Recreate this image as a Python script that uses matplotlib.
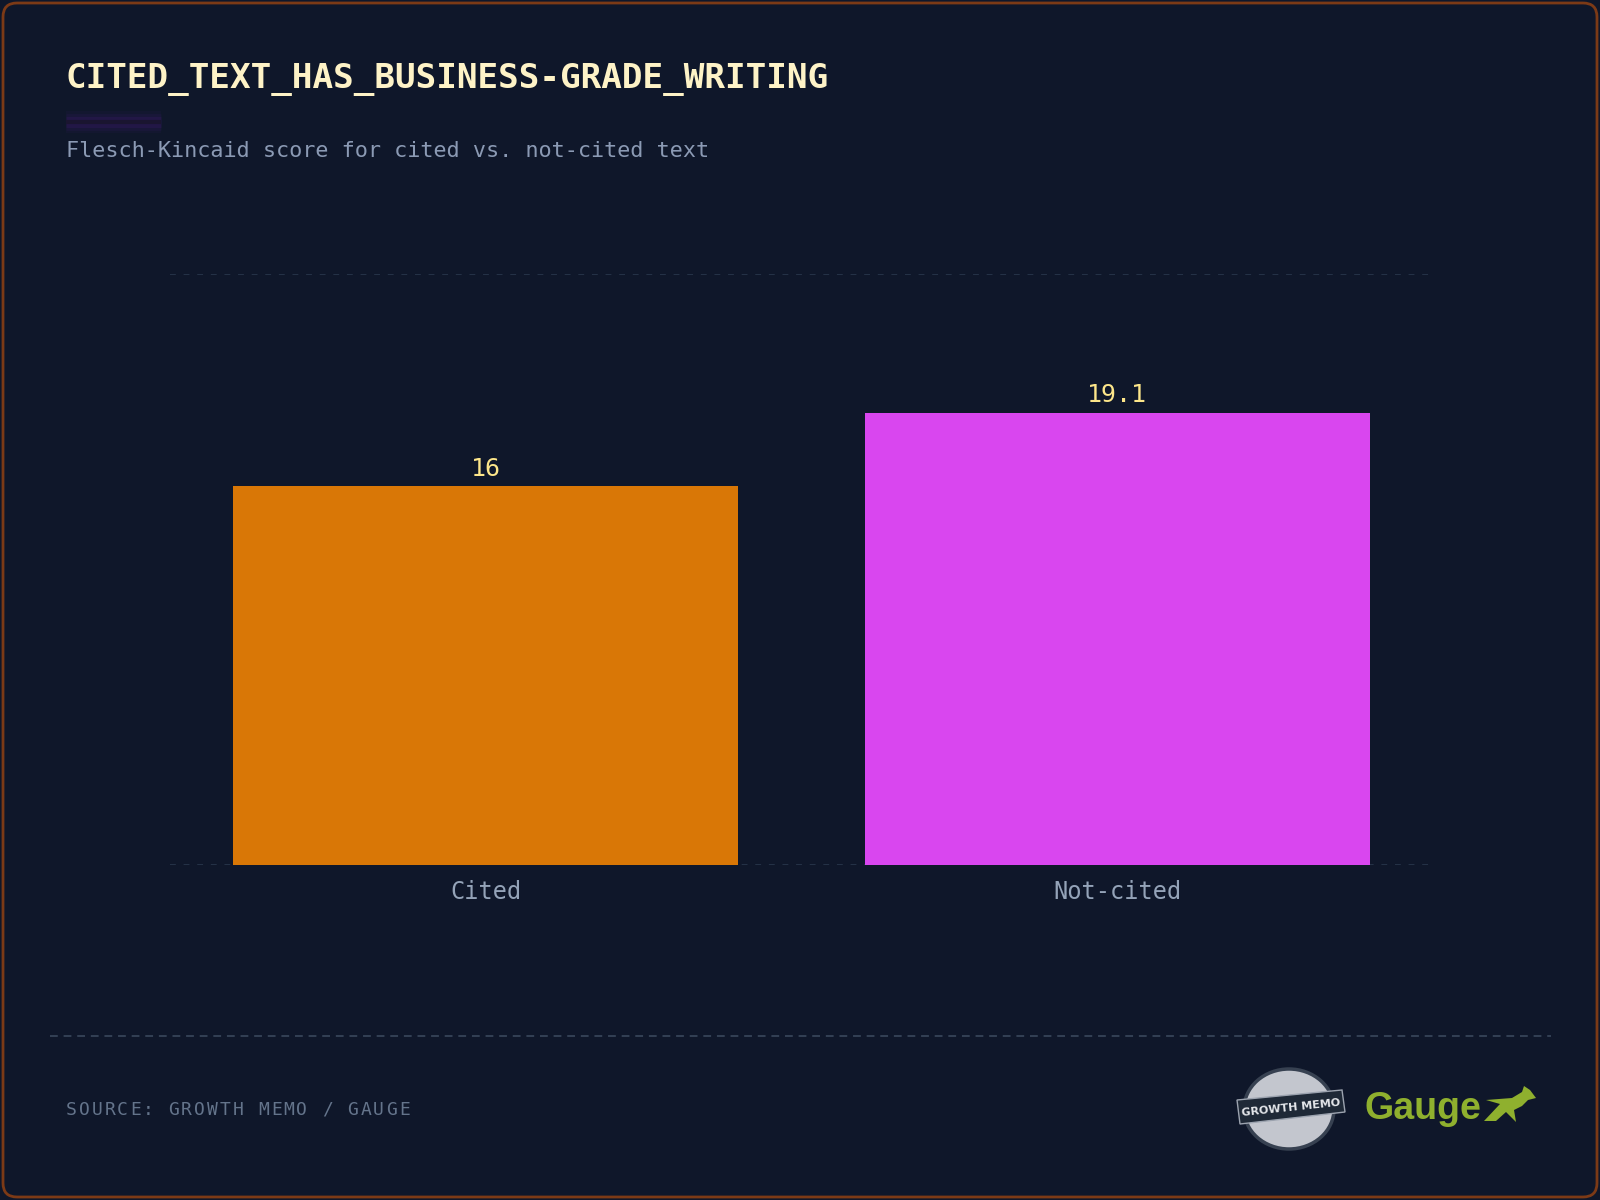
import numpy as np
import matplotlib.pyplot as plt
from matplotlib.patches import FancyBboxPatch, Ellipse, Polygon

# data
categories = ["Cited", "Not-cited"]
scores = [16, 19.1]
bar_colors = ["#d97706", "#d946ef"]
y_max = 25

title = "CITED_TEXT_HAS_BUSINESS-GRADE_WRITING"
subtitle = "Flesch-Kincaid score for cited vs. not-cited text"
source = "SOURCE: GROWTH MEMO / GAUGE"

bg = "#0f172a"
mono = "DejaVu Sans Mono"

fig = plt.figure(figsize=(16, 12), dpi=100, facecolor=bg)

# decoration layer in pixel coords (y down)
deco = fig.add_axes([0, 0, 1, 1], zorder=0)
deco.set_xlim(0, 1600)
deco.set_ylim(1200, 0)
deco.axis("off")
deco.patch.set_alpha(0)

# rounded outer border
deco.add_patch(FancyBboxPatch((3, 3), 1594, 1194, boxstyle="round,pad=0,rounding_size=14",
                              fc="none", ec="#7c3a16", lw=2))

deco.text(66, 79, title, fontsize=24.7, fontweight="bold", family=mono,
          color="#fef3c7", va="center", ha="left")

# accent line with purple glow
for lw, a in [(16, 0.04), (12, 0.06), (8, 0.09)]:
    deco.plot([66, 161], [122, 122], color="#7e22ce", lw=lw, alpha=a, solid_capstyle="butt")
deco.plot([66, 161], [122, 122], color="#1a1530", lw=3, solid_capstyle="butt")

deco.text(66, 151, subtitle, fontsize=15.7, family=mono, color="#8b9ab4",
          va="center", ha="left")

# footer
deco.plot([50, 1551], [1036, 1036], color="#334155", lw=1.4, ls=(0, (4, 3)))
for i, ch in enumerate(source):
    deco.text(66 + i * 12.8, 1110, ch, fontsize=13, family=mono, color="#64748b",
              va="center", ha="left")

# growth memo badge (rough)
deco.add_patch(Ellipse((1289, 1109), 90, 80, fc="#c3c6ce", ec="#374151", lw=2.5))
deco.add_patch(Polygon([[1237, 1100], [1342, 1090], [1345, 1112], [1240, 1124]],
                       closed=True, fc="#1f2937", ec="#9ca3af", lw=1))
deco.text(1291, 1108, "GROWTH MEMO", fontsize=8, fontweight="bold", family="DejaVu Sans",
          color="#e5e7eb", ha="center", va="center", rotation=6)

# gauge logo
deco.text(1365, 1109, "Gauge", fontsize=27, fontweight="bold", family="Liberation Sans",
          color="#8fb02e", ha="left", va="center")
deco.add_patch(Polygon([[1484, 1121], [1500, 1104], [1486, 1100], [1512, 1098], [1522, 1092],
                        [1524, 1086], [1530, 1090], [1536, 1098], [1528, 1100], [1522, 1106],
                        [1514, 1110], [1516, 1122], [1506, 1112], [1496, 1121]],
                       closed=True, fc="#8fb02e", ec="none"))

# main chart
ax = fig.add_axes([170 / 1600, 335 / 1200, 1263 / 1600, 591.5 / 1200], zorder=1)
ax.patch.set_alpha(0)
x = np.arange(len(categories))
bars = ax.bar(x, scores, width=0.8, color=bar_colors, zorder=2)
ax.set_xlim(-0.5, 1.5)
ax.set_ylim(0, y_max)
for yv in [0, y_max]:
    ax.axhline(yv, color="#253247", lw=1.4, ls=(0, (3, 4)), zorder=1)
for b, v in zip(bars, scores):
    ax.text(b.get_x() + b.get_width() / 2, v + 0.25, f"{v:g}", ha="center", va="bottom",
            fontsize=18, family=mono, color="#fde68a")
ax.set_xticks(x)
ax.set_xticklabels(categories, fontsize=17, family=mono, color="#94a3b8")
ax.tick_params(axis="x", length=0, pad=11)
ax.set_yticks([])
for s in ax.spines.values():
    s.set_visible(False)

fig.savefig("out.png", dpi=100, facecolor=bg)
